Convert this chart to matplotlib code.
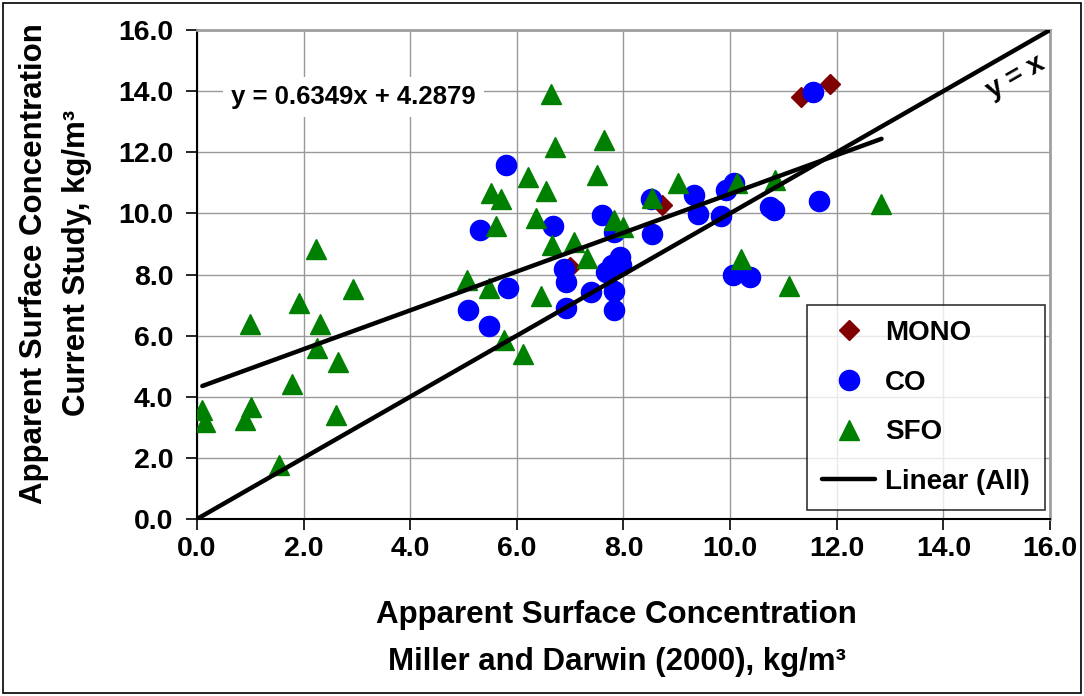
import numpy as np
import matplotlib
matplotlib.use('Agg')
import matplotlib.pyplot as plt
from matplotlib.patches import Rectangle

plt.rcParams['font.family'] = ['Liberation Sans', 'DejaVu Sans']
plt.rcParams['font.weight'] = 'bold'

# surface concentrations, kg/m^3 (x = Miller and Darwin 2000, y = current study)
mono_x = [6.99, 8.73, 11.33, 11.88]
mono_y = [8.25, 10.26, 13.82, 14.22]

co_x = [5.09, 5.31, 5.48, 5.80, 5.84, 6.67, 6.88, 6.92, 6.93, 7.40,
        7.59, 7.68, 7.78, 7.93, 7.95, 7.82, 7.82, 7.82, 8.52, 8.54,
        9.32, 9.40, 9.83, 9.93, 10.08, 10.05, 10.38, 10.74, 10.83, 11.55,
        11.66]
co_y = [6.85, 9.47, 6.31, 11.57, 7.56, 9.59, 8.17, 7.77, 6.89, 7.42,
        9.95, 8.08, 8.32, 8.56, 8.30, 7.45, 6.85, 9.39, 10.48, 9.31,
        10.61, 9.97, 9.93, 10.78, 10.99, 7.97, 7.92, 10.21, 10.12, 13.96,
        10.39]

sfo_x = [0.10, 0.16, 0.91, 1.02, 1.53, 1.78, 2.61, 2.64, 2.25, 2.31,
         1.00, 1.91, 2.92, 2.23, 5.07, 5.48, 5.75, 6.12, 6.45, 5.51,
         5.71, 5.60, 6.20, 6.36, 6.54, 6.65, 6.71, 6.66, 7.07, 7.31,
         7.51, 7.63, 7.82, 7.99, 8.53, 9.03, 10.13, 10.85, 10.20, 11.11,
         12.84]
sfo_y = [3.56, 3.18, 3.24, 3.67, 1.76, 4.43, 3.40, 5.14, 5.58, 6.37,
         6.37, 7.07, 7.54, 8.82, 7.81, 7.57, 5.85, 5.41, 7.29, 10.66,
         10.46, 9.59, 11.19, 9.85, 10.72, 13.91, 12.17, 8.95, 9.06, 8.55,
         11.24, 12.39, 9.79, 9.55, 10.51, 10.99, 10.99, 11.08, 8.52, 7.61,
         10.32]

# trendline over all data
slope = 0.6349
intercept = 4.2879

ticks = np.arange(0, 16.1, 2)

fig = plt.figure(figsize=(10.84, 6.96), dpi=100)
ax = fig.add_axes([0.1817, 0.2543, 0.7869, 0.7026])

ax.plot(mono_x, mono_y, 'D', color='#800000', ms=10.5, mec='#800000', label='MONO', zorder=3)
ax.plot(co_x, co_y, 'o', color='#0000ff', ms=14.5, mec='#0000ff', label='CO', zorder=4)
ax.plot(sfo_x, sfo_y, '^', color='#008000', ms=15, mec='#008000', label='SFO', zorder=5)

all_x = np.array(mono_x + co_x + sfo_x)
xfit = np.array([all_x.min(), all_x.max()])
ax.plot(xfit, slope * xfit + intercept, color='black', lw=3.2,
        solid_capstyle='round', label='Linear (All)', zorder=6)
ax.plot([0, 16], [0, 16], color='black', lw=3.2, zorder=6)

ax.set_xlim(0, 16)
ax.set_ylim(0, 16)
ax.set_xticks(ticks)
ax.set_yticks(ticks)
ax.set_xticklabels(['%.1f' % t for t in ticks])
ax.set_yticklabels(['%.1f' % t for t in ticks])
ax.tick_params(labelsize=20.5, length=8, width=1.2, direction='out')
ax.tick_params(axis='x', pad=4)
ax.tick_params(axis='y', pad=9)
ax.grid(True, color='#999999', lw=1.0)
ax.set_axisbelow(True)
for s in ['left', 'bottom']:
    ax.spines[s].set_color('black')
    ax.spines[s].set_linewidth(1.5)
for s in ['top', 'right']:
    ax.spines[s].set_color('#a0a0a0')
    ax.spines[s].set_linewidth(2)

ax.text(2.94, 13.8, 'y = 0.6349x + 4.2879', fontsize=18.5, ha='center', va='center',
        bbox=dict(facecolor='white', edgecolor='none', pad=6), zorder=2)
ax.text(15.35, 14.45, 'y = x', fontsize=20, ha='center', va='center',
        rotation=45, transform_rotates_text=True, rotation_mode='anchor', zorder=7)

fig.text(0.031, 0.622, 'Apparent Surface Concentration', rotation=90,
         fontsize=22.5, ha='center', va='center')
fig.text(0.071, 0.622, 'Current Study, kg/m\u00b3', rotation=90,
         fontsize=22.5, ha='center', va='center')
fig.text(0.569, 0.117, 'Apparent Surface Concentration', fontsize=22.5,
         ha='center', va='center')
fig.text(0.569, 0.049, 'Miller and Darwin (2000), kg/m\u00b3', fontsize=22.5,
         ha='center', va='center')

leg = ax.legend(loc='lower right', bbox_to_anchor=(0.994, 0.018), fontsize=20,
                frameon=True, fancybox=False, borderaxespad=0, labelspacing=0.85,
                handlelength=1.9, borderpad=0.55, handletextpad=0.35, markerscale=1.0)
leg.get_frame().set_edgecolor('black')
leg.get_frame().set_linewidth(1.2)
leg.set_zorder(10)

fig.patches.append(Rectangle((0.003, 0.004), 0.994, 0.992, transform=fig.transFigure,
                             fill=False, ec='black', lw=1.2))

fig.savefig('out.png', dpi=100)
